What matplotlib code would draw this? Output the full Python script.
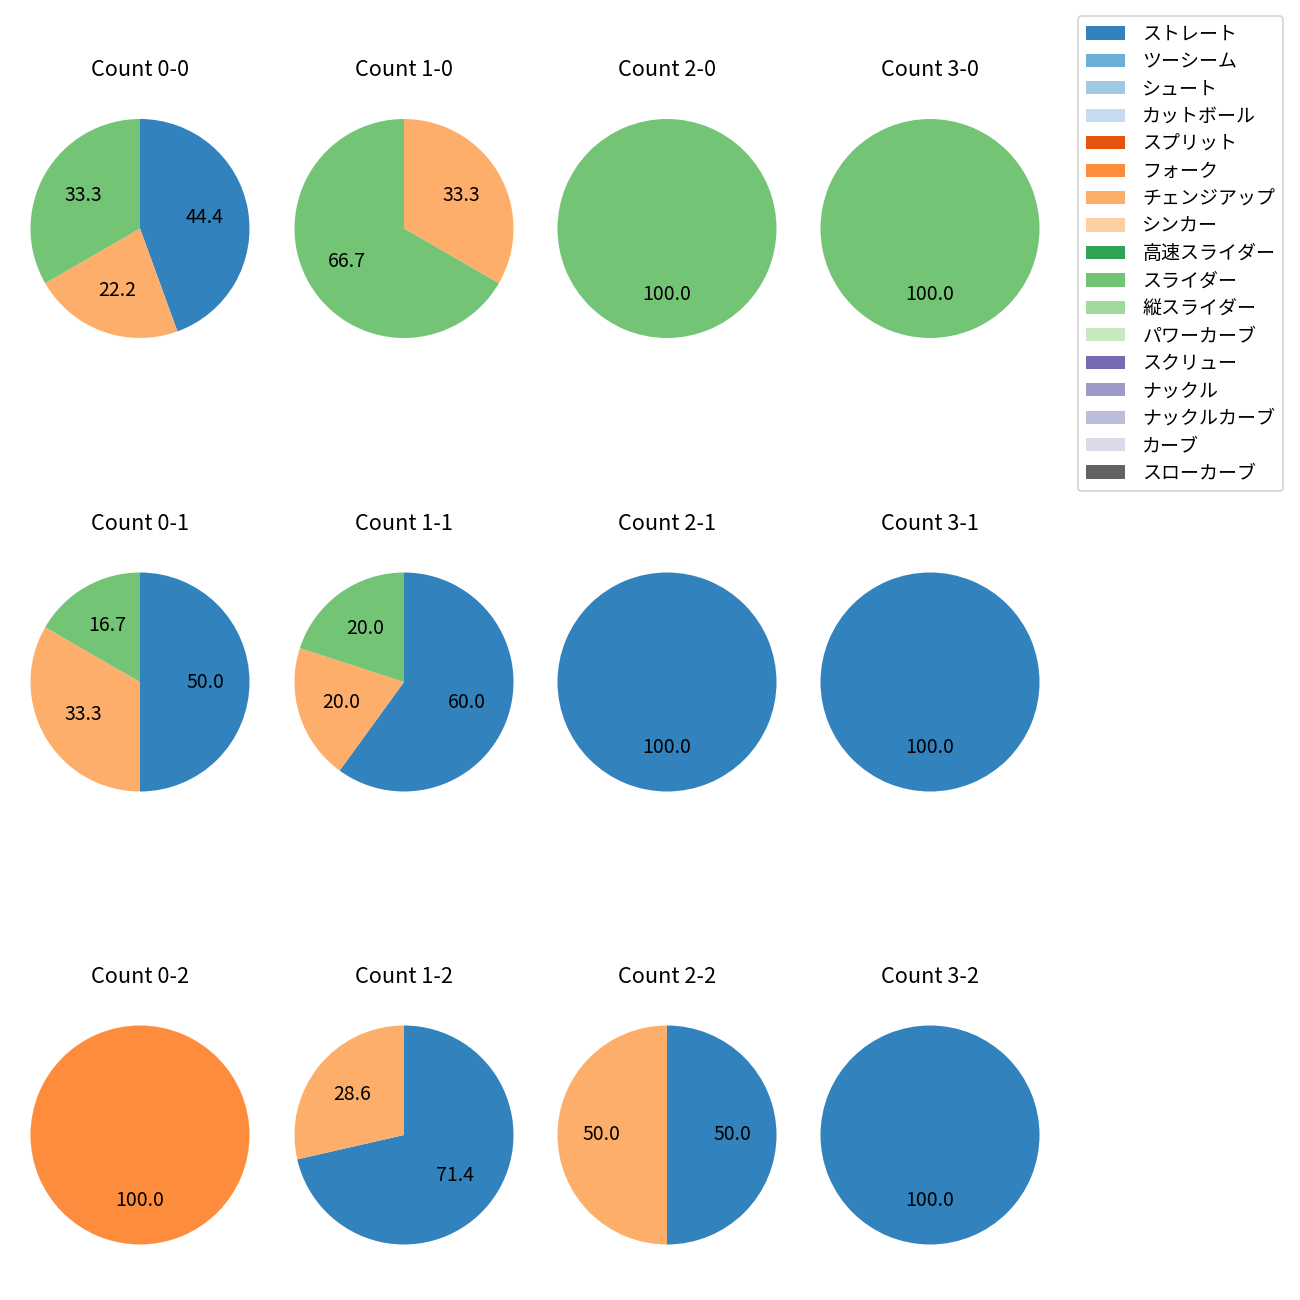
import numpy as np
import matplotlib
matplotlib.use('Agg')
import matplotlib.pyplot as plt
from matplotlib.patches import Patch

plt.rcParams['font.family'] = ['Noto Sans CJK JP', 'DejaVu Sans']

## Pitch types (legend order) ##
pitch_types = ['ストレート', 'ツーシーム', 'シュート', 'カットボール', 'スプリット',
               'フォーク', 'チェンジアップ', 'シンカー', '高速スライダー', 'スライダー',
               '縦スライダー', 'パワーカーブ', 'スクリュー', 'ナックル', 'ナックルカーブ',
               'カーブ', 'スローカーブ']

## Pitch counts per ball-strike count (same order as pitch_types) ##
#                 St Tw Sh Ct Sp Fk Ch Sk HS Sl VS PC Sc Kn KC Cv SC
count_0_0 = [4, 0, 0, 0, 0, 0, 2, 0, 0, 3, 0, 0, 0, 0, 0, 0, 0]
count_1_0 = [0, 0, 0, 0, 0, 0, 1, 0, 0, 2, 0, 0, 0, 0, 0, 0, 0]
count_2_0 = [0, 0, 0, 0, 0, 0, 0, 0, 0, 1, 0, 0, 0, 0, 0, 0, 0]
count_3_0 = [0, 0, 0, 0, 0, 0, 0, 0, 0, 1, 0, 0, 0, 0, 0, 0, 0]
count_0_1 = [3, 0, 0, 0, 0, 0, 2, 0, 0, 1, 0, 0, 0, 0, 0, 0, 0]
count_1_1 = [3, 0, 0, 0, 0, 0, 1, 0, 0, 1, 0, 0, 0, 0, 0, 0, 0]
count_2_1 = [1, 0, 0, 0, 0, 0, 0, 0, 0, 0, 0, 0, 0, 0, 0, 0, 0]
count_3_1 = [1, 0, 0, 0, 0, 0, 0, 0, 0, 0, 0, 0, 0, 0, 0, 0, 0]
count_0_2 = [0, 0, 0, 0, 0, 1, 0, 0, 0, 0, 0, 0, 0, 0, 0, 0, 0]
count_1_2 = [5, 0, 0, 0, 0, 0, 2, 0, 0, 0, 0, 0, 0, 0, 0, 0, 0]
count_2_2 = [1, 0, 0, 0, 0, 0, 1, 0, 0, 0, 0, 0, 0, 0, 0, 0, 0]
count_3_2 = [1, 0, 0, 0, 0, 0, 0, 0, 0, 0, 0, 0, 0, 0, 0, 0, 0]

count_data = {
    (0, 0): count_0_0, (1, 0): count_1_0, (2, 0): count_2_0, (3, 0): count_3_0,
    (0, 1): count_0_1, (1, 1): count_1_1, (2, 1): count_2_1, (3, 1): count_3_1,
    (0, 2): count_0_2, (1, 2): count_1_2, (2, 2): count_2_2, (3, 2): count_3_2,
}

colors = [plt.get_cmap('tab20c')(i) for i in range(len(pitch_types))]

fig = plt.figure(figsize=[10, 10], dpi=130)
W, H = 1300, 1300
col_x = [140, 404, 667, 930]
row_y = [228.5, 682, 1135]
box = 2.5 * 109.5

for (balls, strikes), values in count_data.items():
    cx = col_x[balls]
    cy = row_y[strikes]
    ax = fig.add_axes([(cx - box / 2) / W, 1 - (cy + box / 2) / H, box / W, box / H])
    vals = [v for v in values if v > 0]
    cols = [colors[i] for i, v in enumerate(values) if v > 0]
    ax.pie(vals, colors=cols, autopct='%.1f', startangle=90, counterclock=False,
           textprops={'fontsize': 10.8})
    ax.set_title(f'Count {balls}-{strikes}', pad=8.5)

handles = [Patch(facecolor=c, label=name) for c, name in zip(colors, pitch_types)]
fig.legend(handles=handles, loc='upper right', fontsize=10.5,
           labelspacing=0.34, handlelength=2.1, handletextpad=0.9,
           bbox_to_anchor=(1283 / W, 1 - 16 / H), borderaxespad=0)

plt.savefig('out.png')
